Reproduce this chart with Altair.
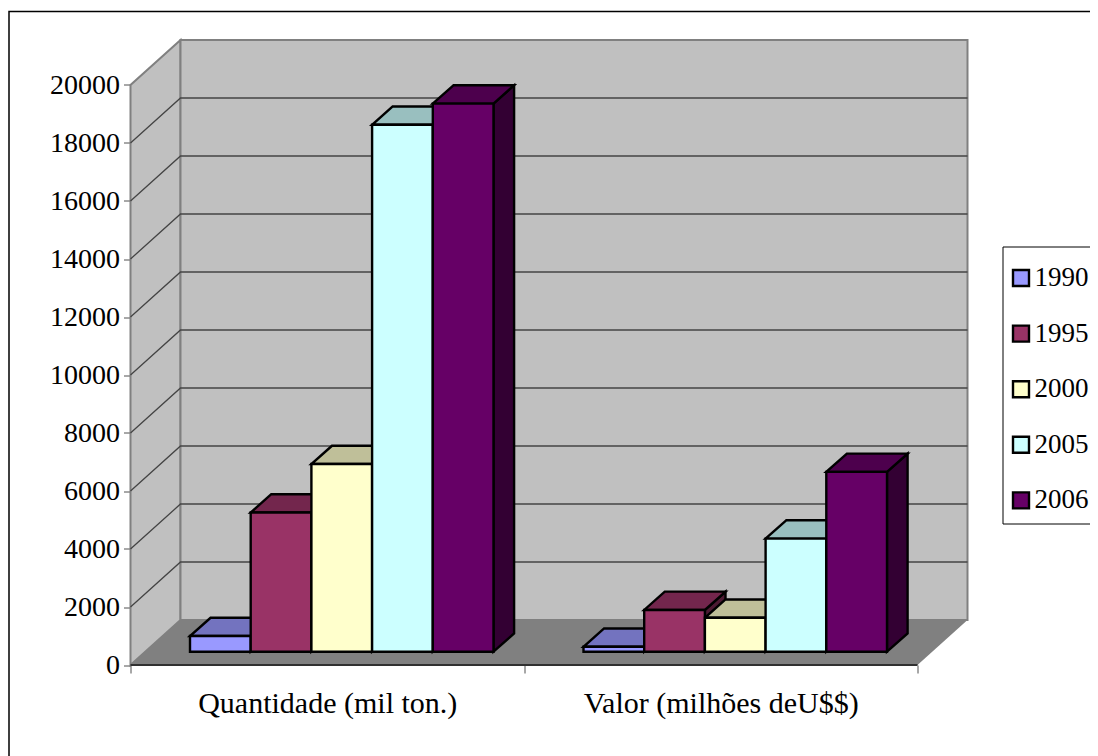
import altair as alt
import pandas as pd

# --- values ---
years = ["1990", "1995", "2000", "2005", "2006"]
categories = ["Quantidade (mil ton.)", "Valor (milhões deU$$)"]
quantidade = [540, 4800, 6470, 18170, 18900]
valor = [170, 1440, 1170, 3900, 6200]
front_colors = ["#9999FF", "#993366", "#FFFFCC", "#CCFFFF", "#660066"]
top_colors = ["#7373BF", "#73264D", "#BFBF99", "#99BFBF", "#4D004D"]
side_colors = ["#4D4D80", "#4D1A33", "#808066", "#668080", "#330033"]
axis_ticks = list(range(0, 20001, 2000))

FONT = "Liberation Serif"
# plot geometry (pixels -> data units)
PX_UNIT = 393.5           # one category in px
PX_VALUE = 580 / 20000    # px per value unit
W, H = 837, 624.5
XDOM = [0.5, 0.5 + W / PX_UNIT]
YDOM = [0, H / PX_VALUE]
D_X = 50 / PX_UNIT        # wall depth
D_Y = 45 / PX_VALUE
B_DX = 20.6 / PX_UNIT     # bar depth
B_DY = 18.3 / PX_VALUE
O_X = 14.5 / PX_UNIT      # front-of-bar offset inside floor
O_Y = 13.3 / PX_VALUE
BAR_W = 60.7 / PX_UNIT
BAR_STROKE = 2.4

xs = alt.Scale(domain=XDOM, nice=False, zero=False)
ys = alt.Scale(domain=YDOM, nice=False, zero=False)
x_axis = alt.Axis(
    values=[0.5, 1, 1.5, 2, 2.5], domain=False, grid=False, tickSize=8, tickColor="#505050",
    tickOpacity={"condition": {"test": "datum.value == 1 || datum.value == 2", "value": 0}, "value": 1},
    labelExpr=f"datum.value == 1 ? '{categories[0]}' : datum.value == 2 ? '{categories[1]}' : ''",
    labelFont=FONT, labelFontSize=30, labelColor="black", labelPadding=15, labelOverlap=False,
    labelFlush=False, labelLimit=500, title=None,
)
y_axis = alt.Axis(
    values=axis_ticks, domain=False, grid=False, tickSize=7, tickColor="#505050",
    labelFont=FONT, labelFontSize=28, labelColor="black", labelPadding=4, labelOverlap=False,
    format="d", title=None,
)
X = lambda f: alt.X(f, type="quantitative", scale=xs, axis=x_axis, stack=None)
Y = lambda f: alt.Y(f, type="quantitative", scale=ys, axis=y_axis, stack=None)
X2 = lambda f: alt.X2(f)
Y2 = lambda f: alt.Y2(f)

# --- bars ---
fronts, sides, tops = [], [], []
for c, vals in enumerate([quantidade, valor]):
    for i, v in enumerate(vals):
        x0 = c + 1 + O_X + (i - 2.5) * BAR_W
        x1 = x0 + BAR_W
        bid = f"{c}-{i}"
        fronts.append(dict(x0=x0, x1=x1, y0=O_Y, y1=O_Y + v, year=years[i]))
        sides += [
            dict(id=bid, x=x1, y0=O_Y, y1=O_Y + v, col=side_colors[i]),
            dict(id=bid, x=x1 + B_DX, y0=O_Y + B_DY, y1=O_Y + v + B_DY, col=side_colors[i]),
        ]
        tops += [
            dict(id=bid, y=O_Y + v, x0=x0, x1=x1, col=top_colors[i]),
            dict(id=bid, y=O_Y + v + B_DY, x0=x0 + B_DX, x1=x1 + B_DX, col=top_colors[i]),
        ]

# --- walls ---
left_wall = pd.DataFrame([
    dict(x=0.5, y0=0, y1=20000),
    dict(x=0.5 + D_X, y0=D_Y, y1=20000 + D_Y),
])
back_wall = pd.DataFrame([
    dict(x=0.5 + D_X, y0=D_Y, y1=20000 + D_Y),
    dict(x=2.5 + D_X, y0=D_Y, y1=20000 + D_Y),
])
floor = pd.DataFrame([
    dict(y=0, x0=0.5, x1=2.5),
    dict(y=D_Y, x0=0.5 + D_X, x1=2.5 + D_X),
])
grid = pd.DataFrame(
    [r for v in axis_ticks[1:-1] for r in (
        dict(v=v, k=0, x=0.5, y=v),
        dict(v=v, k=1, x=0.5 + D_X, y=v + D_Y),
        dict(v=v, k=2, x=2.5 + D_X, y=v + D_Y),
    )]
)
front_edge = pd.DataFrame([dict(x=0.5, y=0), dict(x=2.5, y=0)])

GREY = "#808080"
left = alt.Chart(left_wall).mark_area(fill="#C0C0C0", stroke=GREY, strokeWidth=2).encode(
    x=X("x"), y=Y("y0"), y2=Y2("y1"))
back = alt.Chart(back_wall).mark_area(fill="#C0C0C0", stroke=GREY, strokeWidth=2).encode(
    x=X("x"), y=Y("y0"), y2=Y2("y1"))
floor_l = alt.Chart(floor).mark_area(orient="horizontal", fill="#808080").encode(
    y=Y("y"), x=X("x0"), x2=X2("x1"))
grid_l = alt.Chart(grid).mark_line(color="#444444", strokeWidth=1.3).encode(
    x=X("x"), y=Y("y"), detail="v:N", order="k:Q")
edge_l = alt.Chart(front_edge).mark_line(color="#303030", strokeWidth=2).encode(x=X("x"), y=Y("y"))

side_l = alt.Chart(pd.DataFrame(sides)).mark_area(stroke="black", strokeWidth=BAR_STROKE).encode(
    x=X("x"), y=Y("y0"), y2=Y2("y1"), detail="id:N", fill=alt.Fill("col:N", scale=None))
top_l = alt.Chart(pd.DataFrame(tops)).mark_area(orient="horizontal", stroke="black", strokeWidth=BAR_STROKE).encode(
    y=Y("y"), x=X("x0"), x2=X2("x1"), detail="id:N", fill=alt.Fill("col:N", scale=None))
front_l = alt.Chart(pd.DataFrame(fronts)).mark_rect(stroke="black", strokeWidth=BAR_STROKE).encode(
    x=X("x0"), x2=X2("x1"), y=Y("y0"), y2=Y2("y1"),
    fill=alt.Fill("year:N", sort=years, scale=alt.Scale(domain=years, range=front_colors), legend=alt.Legend(
        title=None, orient="none", legendX=877, legendY=224,
        symbolType="square", symbolSize=256, symbolStrokeColor="black", symbolStrokeWidth=2.4,
        labelFont=FONT, labelFontSize=27, labelColor="black", labelOffset=0,
        rowPadding=27.6, padding=0, symbolOpacity=1,
    )),
)

one = pd.DataFrame({"a": [0]})
frame = alt.Chart(one).mark_rect(fillOpacity=0, stroke="black", strokeWidth=1.5).encode(
    x=alt.value(9 - 130.5), x2=alt.value(1300), y=alt.value(11.5 - 40.5), y2=alt.value(1000))
legend_box = alt.Chart(one).mark_rect(fill="white", stroke="black", strokeWidth=1).encode(
    x=alt.value(1003 - 130.5), x2=alt.value(1300), y=alt.value(247 - 40.5), y2=alt.value(524 - 40.5))

chart = alt.layer(
    frame, legend_box, left, back, floor_l, grid_l, edge_l, side_l, top_l, front_l
).properties(
    width=W, height=H,
    autosize=alt.AutoSizeParams(type="none"),
    padding={"left": 122.5, "top": 32.5, "right": 122.5, "bottom": 91},
    background="white",
).configure_view(stroke=None)

chart.save("out.html", embed_options={"renderer": "svg", "actions": False})
